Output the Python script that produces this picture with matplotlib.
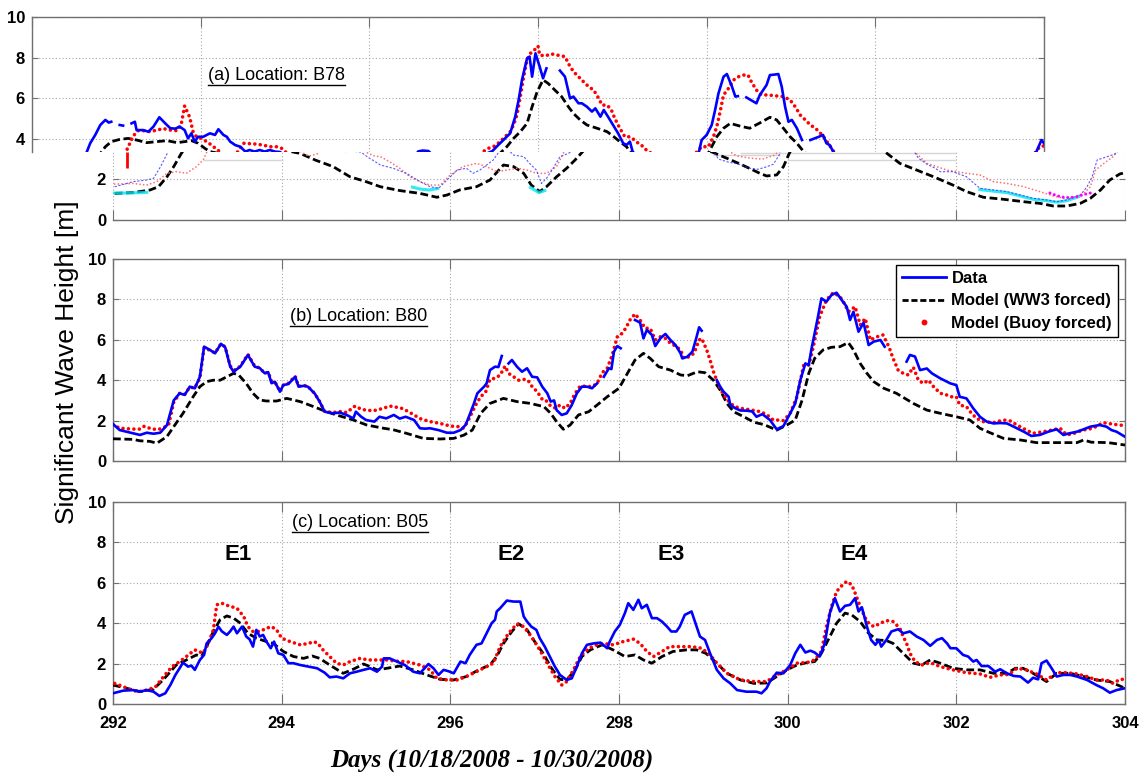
import numpy as np
import matplotlib
matplotlib.use("Agg")
import matplotlib.pyplot as plt
from matplotlib.lines import Line2D

nan = np.nan

# ------------------------------------------------------------------
# Hs time series, (day of year, metres). nan marks gaps in the buoy record.
# ------------------------------------------------------------------

# (a) B78
b78_data = [
    (292.02, 1.64), (292.12, 1.75), (292.24, 1.89), (292.32, 1.93), (292.40, 1.97),
    (292.48, 2.05), (292.56, 2.60), (292.64, 3.25), (292.69, 3.78), (292.75, 4.19),
    (292.81, 4.68), (292.87, 4.93), (292.91, 4.80), (292.94, 4.84), (292.99, nan),
    (293.04, 4.68), (293.08, 4.65), (293.12, nan), (293.18, 4.76), (293.22, 4.84),
    (293.24, 4.43), (293.32, 4.43), (293.38, 4.35), (293.44, 4.60), (293.51, 5.06),
    (293.58, 4.76), (293.64, 4.52), (293.70, 4.50), (293.75, 4.60), (293.81, 4.43),
    (293.85, 4.02), (293.89, 4.27), (293.93, 3.86), (293.97, 4.10), (294.03, 4.10),
    (294.11, 4.27), (294.17, 4.19), (294.21, 4.47), (294.27, 4.19), (294.31, 4.10),
    (294.35, 3.86), (294.41, 3.69), (294.47, 3.61), (294.53, 3.37), (294.58, 3.45),
    (294.64, 3.37), (294.70, 3.45), (294.76, 3.37), (294.82, 3.45), (294.88, 3.37),
    (294.94, 3.35), (295.02, 3.10), (295.10, 2.90), (295.17, 2.71), (295.32, 2.55),
    (295.48, 2.30), (295.64, 1.89), (295.76, 1.64), (295.86, 1.56), (295.96, 1.97),
    (296.08, 2.46), (296.19, 2.55), (296.27, 2.30), (296.35, 2.46), (296.43, 2.71),
    (296.51, 2.96), (296.58, 3.38), (296.63, 3.42), (296.70, 3.40), (296.75, 3.20),
    (296.87, 3.12), (296.94, 2.79), (297.02, 2.46), (297.08, 1.80), (297.14, 2.05),
    (297.22, 2.55), (297.30, 3.12), (297.38, 3.25), (297.46, 3.40), (297.53, 3.70),
    (297.59, 3.94), (297.67, 4.27), (297.73, 5.09), (297.77, 5.91), (297.81, 6.90),
    (297.87, 7.96), (297.90, 8.05), (297.93, 7.06), (297.97, 8.21), (298.02, 7.55),
    (298.06, 6.98), (298.10, 7.47), (298.18, nan), (298.26, 7.36), (298.32, 7.06),
    (298.38, 5.99), (298.42, 6.08), (298.48, 5.75), (298.52, 5.75), (298.58, 5.58),
    (298.64, 5.34), (298.68, 5.50), (298.74, 5.09), (298.78, 5.42), (298.83, 5.09),
    (298.89, 4.68), (298.95, 4.27), (299.01, 3.78), (299.05, 3.70), (299.09, 3.86),
    (299.12, 3.40), (299.18, 3.00), (299.30, 2.85), (299.42, 2.75), (299.55, 2.55),
    (299.65, 2.50), (299.75, 2.62), (299.83, 2.75), (299.90, 3.20), (299.94, 3.94),
    (300.00, 4.19), (300.06, 4.68), (300.10, 5.42), (300.14, 6.24), (300.20, 7.06),
    (300.24, 7.19), (300.30, 6.57), (300.34, 6.08), (300.37, 6.10), (300.42, nan),
    (300.47, 6.04), (300.59, 5.75), (300.63, 6.16), (300.67, 6.40), (300.71, 6.65),
    (300.75, 7.14), (300.80, 7.16), (300.85, 7.19), (300.89, 6.57), (300.93, 5.58),
    (300.97, 4.84), (301.01, 4.93), (301.07, 4.52), (301.13, 3.94), (301.18, nan),
    (301.23, 3.94), (301.33, 4.10), (301.38, 4.19), (301.42, 3.78), (301.46, 3.69),
    (301.50, 3.37), (301.55, 3.05), (301.65, 2.75), (301.75, 2.55), (301.81, 2.38),
    (301.96, 2.38), (302.12, 2.13), (302.28, 1.56), (302.44, 1.48), (302.60, 1.40),
    (302.76, 1.23), (302.91, 1.07), (303.07, 0.99), (303.19, 0.90), (303.31, 0.99),
    (303.47, 1.23), (303.55, 1.64), (303.61, 2.13), (303.67, 2.96), (303.79, 3.12),
    (303.88, 3.25), (303.91, 3.37), (303.97, 3.94), (304.00, 3.78),
]
b78_ww3 = [
    (292.02, 1.31), (292.24, 1.35), (292.44, 1.48), (292.54, 1.64), (292.64, 2.13),
    (292.72, 2.63), (292.81, 3.28), (292.87, 3.61), (292.94, 3.86), (293.04, 3.97),
    (293.14, 4.02), (293.24, 3.94), (293.36, 3.81), (293.48, 3.86), (293.60, 3.91),
    (293.72, 3.81), (293.81, 3.86), (293.89, 3.91), (293.97, 3.78), (294.05, 3.53),
    (294.11, 3.37), (294.22, 3.28), (294.40, 2.95), (294.61, 2.63), (294.81, 2.13),
    (295.00, 1.89), (295.17, 1.64), (295.40, 1.45), (295.64, 1.31), (295.84, 1.12),
    (295.96, 1.23), (296.11, 1.48), (296.31, 1.64), (296.47, 1.97), (296.63, 2.71),
    (296.75, 2.63), (296.87, 2.30), (296.96, 1.72), (297.06, 1.40), (297.14, 1.64),
    (297.26, 2.13), (297.38, 2.55), (297.48, 2.96), (297.57, 3.37), (297.63, 3.61),
    (297.71, 4.02), (297.79, 4.35), (297.87, 4.76), (297.93, 5.58), (297.99, 6.32),
    (298.06, 6.90), (298.12, 6.73), (298.20, 6.40), (298.28, 6.08), (298.36, 5.58),
    (298.42, 5.25), (298.50, 4.93), (298.58, 4.68), (298.70, 4.52), (298.82, 4.35),
    (298.90, 4.10), (298.97, 3.86), (299.05, 3.61), (299.09, 3.37), (299.28, 3.04),
    (299.44, 2.75), (299.59, 2.46), (299.67, 2.30), (299.75, 2.17), (299.87, 2.22),
    (299.95, 2.63), (300.01, 3.20), (300.04, 3.45), (300.12, 4.10), (300.20, 4.52),
    (300.28, 4.76), (300.40, 4.62), (300.51, 4.52), (300.63, 4.78), (300.75, 5.06),
    (300.83, 4.93), (300.91, 4.52), (300.99, 4.10), (301.07, 3.78), (301.15, 3.37),
    (301.33, 2.79), (301.53, 2.46), (301.73, 2.13), (301.96, 1.72), (302.12, 1.40),
    (302.32, 1.12), (302.56, 1.02), (302.80, 0.90), (302.99, 0.82), (303.15, 0.69),
    (303.31, 0.69), (303.47, 0.82), (303.59, 1.07), (303.71, 1.48), (303.82, 1.97),
    (303.94, 2.27), (304.00, 2.33),
]
b78_buoy = [
    (292.02, 1.77), (292.12, 1.78), (292.24, 1.80), (292.32, 1.76), (292.40, 1.72),
    (292.52, 1.89), (292.64, 2.30), (292.75, 2.38), (292.87, 2.30), (292.99, 2.63),
    (293.07, 2.96), (293.16, 3.78), (293.20, 4.14), (293.26, 4.40), (293.32, 4.40),
    (293.40, 4.35), (293.48, 4.43), (293.56, 4.50), (293.64, 4.43), (293.72, 4.40),
    (293.77, 4.73), (293.81, 5.62), (293.87, 5.06), (293.91, 4.35), (293.95, 4.10),
    (294.01, 4.02), (294.07, 3.86), (294.13, 3.69), (294.19, 3.48), (294.25, 3.30),
    (294.32, 3.15), (294.42, 3.25), (294.51, 3.78), (294.58, 3.76), (294.66, 3.74),
    (294.74, 3.69), (294.82, 3.61), (294.90, 3.61), (294.96, 3.53), (295.02, 3.30),
    (295.10, 3.15), (295.17, 3.12), (295.28, 2.87), (295.40, 2.55), (295.52, 2.13),
    (295.64, 1.89), (295.76, 1.72), (295.88, 1.72), (296.00, 2.22), (296.15, 2.63),
    (296.31, 2.79), (296.43, 2.63), (296.55, 2.38), (296.67, 2.46), (296.79, 2.55),
    (296.91, 2.46), (297.02, 2.30), (297.14, 2.30), (297.26, 2.63), (297.35, 3.37),
    (297.41, 3.53), (297.49, 3.65), (297.55, 3.86), (297.61, 4.10), (297.67, 4.35),
    (297.71, 4.68), (297.75, 5.17), (297.79, 6.08), (297.83, 7.06), (297.87, 7.88),
    (297.91, 8.21), (297.95, 8.34), (298.00, 8.57), (298.02, 8.13), (298.08, 8.08),
    (298.16, 8.18), (298.22, 8.13), (298.28, 8.08), (298.32, 8.05), (298.37, 7.64),
    (298.42, 7.31), (298.48, 7.06), (298.54, 6.81), (298.60, 6.57), (298.66, 6.40),
    (298.72, 5.99), (298.76, 5.66), (298.82, 5.66), (298.87, 5.42), (298.91, 5.01),
    (298.97, 4.52), (299.03, 4.10), (299.09, 4.10), (299.14, 3.95), (299.19, 3.78),
    (299.25, 3.61), (299.29, 3.42), (299.40, 3.15), (299.55, 3.05), (299.70, 3.00),
    (299.85, 3.20), (299.94, 3.61), (300.02, 3.61), (300.08, 4.10), (300.12, 4.60),
    (300.16, 5.34), (300.20, 6.16), (300.26, 6.49), (300.32, 6.90), (300.38, 7.06),
    (300.44, 7.14), (300.49, 7.14), (300.53, 6.81), (300.59, 6.40), (300.65, 6.16),
    (300.73, 6.16), (300.81, 6.12), (300.91, 6.08), (300.99, 5.91), (301.05, 5.58),
    (301.11, 5.17), (301.17, 4.93), (301.23, 4.68), (301.29, 4.52), (301.35, 4.27),
    (301.40, 4.02), (301.44, 3.78), (301.48, 3.53), (301.52, 3.30), (301.65, 2.79),
    (301.89, 2.46), (302.12, 2.30), (302.28, 2.22), (302.44, 1.89), (302.60, 1.80),
    (302.80, 1.64), (302.99, 1.40), (303.15, 1.18), (303.27, 1.07), (303.39, 1.12),
    (303.51, 1.31), (303.59, 1.64), (303.65, 2.46), (303.75, 2.79), (303.86, 3.12),
    (303.95, 3.61), (304.00, 3.65),
]
# extra traces left over in the lower strip of panel (a)
b78_cyan = [
    (292.02, 1.33), (292.20, 1.33), (292.40, 1.36), (292.45, nan),
    (295.55, 1.62), (295.65, 1.52), (295.75, 1.48), (295.85, 1.55), (295.90, nan),
    (296.95, 1.60), (297.05, 1.35), (297.12, 1.45), (297.20, nan),
    (302.28, 1.50), (302.44, 1.42), (302.60, 1.35), (302.76, 1.18), (302.91, 1.02),
    (303.07, 0.95), (303.19, 0.88), (303.31, 0.95), (303.45, 1.15),
]
b78_magenta = [
    (303.11, 1.33), (303.19, 1.20), (303.27, 1.12), (303.35, 1.10), (303.43, 1.15),
    (303.51, 1.25), (303.59, 1.33),
]
b78_buoy_bar = (292.17, 2.56, 3.35)
# faint horizontal rules in the lower strip: (level, start day, end day)
b78_rules = [(2.96, 293.07, 294.02), (2.96, 299.99, 302.0),
             (3.30, 299.43, 302.0), (3.20, 299.11, 299.91)]

# (b) B80
b80_data = [
    (292.00, 1.83), (292.08, 1.53), (292.16, 1.45), (292.24, 1.37), (292.32, 1.29),
    (292.40, 1.40), (292.48, 1.35), (292.56, 1.40), (292.64, 1.78), (292.72, 3.00),
    (292.79, 3.35), (292.85, 3.27), (292.91, 3.68), (292.97, 3.60), (293.03, 4.17),
    (293.08, 5.66), (293.15, 5.50), (293.21, 5.33), (293.28, 5.80), (293.33, 5.63),
    (293.39, 4.67), (293.43, 4.42), (293.51, 4.67), (293.60, 5.25), (293.68, 4.67),
    (293.74, 4.60), (293.80, 4.34), (293.84, 4.40), (293.88, 3.85), (293.92, 3.92),
    (293.98, 3.43), (294.02, 3.76), (294.08, 3.81), (294.16, 4.17), (294.20, 3.68),
    (294.26, 3.72), (294.31, 3.68), (294.39, 3.35), (294.45, 2.94), (294.51, 2.44),
    (294.61, 2.36), (294.69, 2.40), (294.77, 2.28), (294.85, 2.11), (294.88, 2.44),
    (294.94, 2.20), (295.00, 2.03), (295.10, 1.95), (295.16, 2.19), (295.24, 2.11),
    (295.33, 2.28), (295.40, 2.10), (295.47, 2.19), (295.57, 2.03), (295.64, 1.62),
    (295.70, 1.60), (295.76, 1.62), (295.86, 1.53), (295.96, 1.40), (296.04, 1.40),
    (296.12, 1.53), (296.18, 1.78), (296.22, 2.19), (296.28, 2.85), (296.32, 3.35),
    (296.40, 3.68), (296.43, 3.84), (296.47, 4.50), (296.53, 4.67), (296.57, 4.65),
    (296.61, 5.20), (296.65, nan), (296.69, 4.83), (296.73, 5.00), (296.79, 4.67),
    (296.85, 4.42), (296.91, 4.59), (296.97, 4.17), (297.03, 4.14), (297.09, 3.68),
    (297.15, 3.35), (297.19, 2.94), (297.23, 3.00), (297.26, 2.52), (297.32, 2.28),
    (297.38, 2.36), (297.44, 2.77), (297.50, 3.35), (297.56, 3.68), (297.62, 3.68),
    (297.68, 3.60), (297.74, 3.84), (297.78, nan), (297.82, 4.17), (297.88, 4.59),
    (297.91, 4.55), (297.94, 5.41), (297.98, 5.69), (298.02, 5.58), (298.10, nan),
    (298.19, 6.98), (298.25, 6.85), (298.29, 6.07), (298.33, 6.49), (298.39, 6.24),
    (298.43, 5.69), (298.49, 6.07), (298.55, 6.29), (298.61, 5.99), (298.67, 5.74),
    (298.73, 5.33), (298.75, 5.08), (298.81, 5.16), (298.87, 5.41), (298.91, 5.99),
    (298.95, 6.62), (298.98, 6.45), (299.07, nan), (299.16, 4.00), (299.20, 3.68),
    (299.24, 3.43), (299.30, 3.18), (299.32, 2.77), (299.38, 2.61), (299.44, 2.50),
    (299.52, 2.49), (299.58, 2.45), (299.63, 2.19), (299.70, 2.32), (299.79, 2.03),
    (299.87, 1.57), (299.95, 1.73), (300.03, 2.36), (300.09, 2.85), (300.15, 4.00),
    (300.21, 4.83), (300.25, 4.75), (300.28, 5.50), (300.36, 7.15), (300.40, 8.05),
    (300.46, 7.89), (300.52, 8.22), (300.58, 8.33), (300.64, 7.97), (300.70, 7.64),
    (300.74, 6.98), (300.78, 7.39), (300.84, 6.40), (300.90, 6.85), (300.96, 5.74),
    (301.02, 5.91), (301.10, 5.99), (301.15, 5.66), (301.28, nan), (301.41, 4.92),
    (301.45, 5.25), (301.51, 5.17), (301.57, 4.50), (301.65, 4.58), (301.71, 4.34),
    (301.81, 4.09), (301.93, 3.84), (302.00, 3.76), (302.04, 3.18), (302.12, 3.10),
    (302.20, 2.61), (302.28, 2.19), (302.36, 1.95), (302.44, 1.86), (302.52, 1.88),
    (302.60, 1.86), (302.68, 1.70), (302.80, 1.45), (302.89, 1.24), (302.99, 1.29),
    (303.09, 1.45), (303.19, 1.57), (303.27, 1.29), (303.33, 1.36), (303.43, 1.45),
    (303.51, 1.57), (303.59, 1.70), (303.70, 1.78), (303.78, 1.70), (303.84, 1.53),
    (303.90, 1.45), (304.00, 1.20),
]
b80_ww3 = [
    (292.00, 1.10), (292.16, 1.08), (292.24, 1.07), (292.32, 1.00), (292.44, 0.97),
    (292.52, 0.88), (292.64, 1.21), (292.72, 1.70), (292.83, 2.36), (292.95, 3.18),
    (293.03, 3.68), (293.11, 3.93), (293.19, 4.00), (293.27, 4.00), (293.35, 4.17),
    (293.43, 4.34), (293.49, 4.26), (293.58, 3.84), (293.66, 3.35), (293.74, 3.02),
    (293.82, 2.97), (293.94, 2.97), (294.06, 3.10), (294.14, 3.02), (294.22, 2.94),
    (294.38, 2.69), (294.53, 2.44), (294.69, 2.23), (294.85, 2.03), (295.01, 1.78),
    (295.21, 1.62), (295.32, 1.55), (295.48, 1.37), (295.68, 1.12), (295.88, 1.09),
    (296.04, 1.12), (296.16, 1.28), (296.26, 1.53), (296.36, 2.36), (296.47, 2.85),
    (296.63, 3.10), (296.79, 2.94), (296.95, 2.85), (297.11, 2.69), (297.19, 2.36),
    (297.26, 1.95), (297.34, 1.57), (297.42, 1.78), (297.52, 2.28), (297.64, 2.44),
    (297.74, 2.77), (297.86, 3.18), (298.00, 3.60), (298.10, 4.34), (298.19, 5.00),
    (298.29, 5.33), (298.37, 5.08), (298.47, 4.67), (298.61, 4.50), (298.73, 4.26),
    (298.81, 4.22), (298.93, 4.42), (299.02, 4.37), (299.12, 4.00), (299.20, 3.51),
    (299.28, 2.85), (299.36, 2.44), (299.48, 2.19), (299.60, 1.92), (299.72, 1.80),
    (299.87, 1.53), (299.99, 1.78), (300.09, 2.03), (300.17, 3.00), (300.25, 4.34),
    (300.32, 5.08), (300.42, 5.50), (300.52, 5.63), (300.62, 5.66), (300.72, 5.86),
    (300.78, 5.50), (300.86, 4.83), (300.94, 4.34), (301.02, 3.93), (301.14, 3.60),
    (301.29, 3.35), (301.49, 2.85), (301.65, 2.52), (301.81, 2.36), (302.00, 2.19),
    (302.16, 2.03), (302.28, 1.62), (302.40, 1.40), (302.56, 1.12), (302.76, 1.04),
    (302.95, 0.91), (303.19, 0.91), (303.43, 0.91), (303.51, 1.04), (303.60, 0.93),
    (303.80, 0.91), (304.00, 0.79),
]
b80_buoy = [
    (292.00, 1.80), (292.08, 1.62), (292.16, 1.60), (292.24, 1.58), (292.32, 1.58),
    (292.37, 1.72), (292.45, 1.60), (292.53, 1.55), (292.60, 1.65), (292.66, 1.80),
    (292.72, 2.90), (292.79, 3.35), (292.85, 3.30), (292.91, 3.65), (292.97, 3.62),
    (293.03, 4.10), (293.08, 5.60), (293.15, 5.48), (293.21, 5.35), (293.28, 5.80),
    (293.33, 5.65), (293.39, 4.70), (293.45, 4.50), (293.51, 4.70), (293.60, 5.28),
    (293.68, 4.70), (293.74, 4.60), (293.80, 4.34), (293.84, 4.40), (293.88, 3.95),
    (293.94, 3.80), (293.98, 3.43), (294.02, 3.76), (294.08, 3.85), (294.16, 4.20),
    (294.20, 3.70), (294.26, 3.75), (294.31, 3.70), (294.39, 3.35), (294.45, 2.95),
    (294.51, 2.45), (294.61, 2.40), (294.69, 2.45), (294.77, 2.40), (294.87, 2.72),
    (294.95, 2.55), (295.05, 2.50), (295.10, 2.50), (295.20, 2.60), (295.28, 2.72),
    (295.33, 2.69), (295.43, 2.60), (295.50, 2.45), (295.57, 2.28), (295.64, 2.10),
    (295.76, 1.95), (295.88, 1.86), (296.00, 1.73), (296.10, 1.70), (296.15, 1.62),
    (296.20, 1.90), (296.30, 2.77), (296.36, 3.18), (296.42, 3.43), (296.47, 4.04),
    (296.53, 4.10), (296.59, 4.25), (296.65, 4.70), (296.69, 4.34), (296.75, 4.17),
    (296.81, 4.00), (296.87, 4.04), (296.92, 4.00), (296.97, 3.68), (297.03, 3.43),
    (297.09, 3.05), (297.13, 3.02), (297.19, 2.72), (297.25, 2.61), (297.30, 2.77),
    (297.36, 2.61), (297.42, 2.85), (297.48, 3.35), (297.54, 3.71), (297.60, 3.70),
    (297.68, 3.68), (297.74, 3.84), (297.80, 4.37), (297.86, 4.59), (297.92, 5.25),
    (297.98, 6.15), (298.02, 6.24), (298.08, 6.57), (298.13, 6.98), (298.19, 7.28),
    (298.25, 6.98), (298.31, 6.57), (298.37, 6.57), (298.43, 5.99), (298.49, 6.15),
    (298.55, 6.07), (298.61, 5.83), (298.67, 5.69), (298.73, 5.50), (298.77, 5.08),
    (298.83, 5.16), (298.89, 5.33), (298.95, 5.99), (298.98, 6.07), (299.04, 5.50),
    (299.08, 5.00), (299.12, 4.42), (299.18, 3.76), (299.24, 3.27), (299.32, 2.85),
    (299.38, 2.69), (299.44, 2.61), (299.52, 2.56), (299.60, 2.50), (299.68, 2.44),
    (299.75, 2.30), (299.83, 2.03), (299.87, 2.03), (299.95, 2.00), (300.03, 2.36),
    (300.11, 3.18), (300.19, 4.75), (300.25, 4.75), (300.30, 5.58), (300.38, 7.15),
    (300.46, 7.97), (300.54, 8.33), (300.62, 8.14), (300.66, 7.89), (300.72, 7.39),
    (300.80, 7.64), (300.86, 6.73), (300.92, 7.06), (300.98, 5.99), (301.06, 6.15),
    (301.13, 6.24), (301.20, 5.66), (301.25, 5.08), (301.31, 4.50), (301.37, 4.34),
    (301.43, 4.26), (301.49, 4.64), (301.55, 4.00), (301.61, 3.84), (301.67, 4.00),
    (301.73, 3.68), (301.81, 3.35), (301.87, 3.30), (301.93, 3.18), (302.00, 3.18),
    (302.04, 2.77), (302.12, 2.69), (302.18, 2.36), (302.24, 2.11), (302.32, 1.95),
    (302.44, 1.90), (302.56, 2.03), (302.64, 1.98), (302.72, 1.78), (302.83, 1.53),
    (302.91, 1.37), (303.03, 1.45), (303.13, 1.53), (303.23, 1.62), (303.31, 1.29),
    (303.39, 1.36), (303.50, 1.53), (303.62, 1.62), (303.74, 1.90), (303.86, 1.82),
    (304.00, 1.75),
]

# (c) B05
b05_data = [
    (292.00, 0.53), (292.12, 0.66), (292.24, 0.69), (292.32, 0.61), (292.40, 0.69),
    (292.48, 0.61), (292.55, 0.40), (292.62, 0.53), (292.68, 0.94), (292.74, 1.44),
    (292.79, 1.77), (292.83, 2.05), (292.89, 1.85), (292.93, 1.90), (292.97, 1.69),
    (293.03, 2.18), (293.08, 2.43), (293.11, 3.00), (293.17, 3.26), (293.21, 3.50),
    (293.25, 3.83), (293.29, 3.60), (293.35, 3.42), (293.39, 3.60), (293.43, 3.83),
    (293.47, 3.50), (293.53, 3.83), (293.58, 3.34), (293.62, 3.20), (293.66, 2.84),
    (293.70, 3.67), (293.74, 3.34), (293.78, 3.42), (293.82, 3.09), (293.87, 2.76),
    (293.91, 3.09), (293.96, 2.51), (294.02, 2.43), (294.08, 2.02), (294.14, 2.02),
    (294.22, 1.93), (294.32, 1.85), (294.42, 1.77), (294.51, 1.55), (294.57, 1.32),
    (294.65, 1.36), (294.73, 1.27), (294.81, 1.52), (294.89, 1.60), (294.97, 1.69),
    (295.05, 1.77), (295.13, 1.60), (295.19, 1.85), (295.21, 2.26), (295.28, 2.26),
    (295.34, 2.15), (295.46, 1.93), (295.56, 1.60), (295.64, 1.52), (295.74, 1.98),
    (295.80, 1.77), (295.86, 1.44), (295.92, 1.69), (295.98, 1.62), (296.04, 1.52),
    (296.12, 2.10), (296.18, 2.02), (296.23, 2.43), (296.31, 2.93), (296.37, 3.00),
    (296.43, 3.50), (296.49, 4.00), (296.53, 4.17), (296.55, 4.58), (296.59, 4.74),
    (296.67, 5.12), (296.75, 5.07), (296.83, 5.07), (296.87, 4.33), (296.91, 4.08),
    (296.96, 3.83), (297.02, 3.67), (297.06, 3.26), (297.12, 2.84), (297.18, 2.35),
    (297.24, 1.85), (297.30, 1.44), (297.38, 1.19), (297.44, 1.27), (297.50, 1.85),
    (297.56, 2.51), (297.62, 2.93), (297.70, 3.00), (297.78, 3.04), (297.86, 2.76),
    (297.89, 3.09), (297.95, 3.59), (298.01, 3.92), (298.07, 4.50), (298.11, 4.99),
    (298.17, 4.66), (298.23, 5.16), (298.27, 4.74), (298.33, 4.91), (298.39, 4.25),
    (298.45, 4.25), (298.51, 4.08), (298.57, 3.83), (298.62, 3.59), (298.68, 3.59),
    (298.72, 3.83), (298.78, 4.41), (298.86, 4.58), (298.90, 4.08), (298.96, 3.34),
    (299.02, 3.17), (299.08, 2.51), (299.16, 1.69), (299.24, 1.27), (299.32, 1.02),
    (299.40, 0.69), (299.51, 0.61), (299.63, 0.61), (299.69, 0.53), (299.75, 0.78),
    (299.79, 1.11), (299.87, 1.55), (299.95, 1.52), (300.03, 1.93), (300.09, 2.51),
    (300.15, 2.93), (300.21, 2.55), (300.27, 2.64), (300.32, 2.55), (300.38, 2.35),
    (300.44, 3.00), (300.50, 4.50), (300.56, 5.24), (300.62, 4.58), (300.68, 4.86),
    (300.74, 4.91), (300.80, 5.24), (300.84, 4.58), (300.88, 4.79), (300.94, 3.83),
    (300.99, 3.17), (301.04, 2.93), (301.08, 3.17), (301.11, 2.84), (301.17, 3.17),
    (301.23, 3.59), (301.31, 3.70), (301.37, 3.50), (301.45, 3.59), (301.53, 3.34),
    (301.61, 3.17), (301.69, 2.88), (301.77, 3.17), (301.83, 3.26), (301.89, 3.00),
    (301.93, 2.76), (302.00, 2.76), (302.08, 2.43), (302.14, 2.35), (302.20, 2.10),
    (302.24, 2.18), (302.30, 1.88), (302.38, 1.88), (302.46, 1.60), (302.52, 1.72),
    (302.60, 1.52), (302.68, 1.39), (302.76, 1.36), (302.85, 1.06), (302.91, 1.30),
    (302.97, 1.22), (303.01, 2.02), (303.07, 2.15), (303.13, 1.77), (303.19, 1.36),
    (303.27, 1.44), (303.35, 1.44), (303.43, 1.36), (303.55, 1.19), (303.66, 0.94),
    (303.74, 0.78), (303.82, 0.56), (303.90, 0.69), (304.00, 0.78),
]
b05_ww3 = [
    (292.00, 0.94), (292.16, 0.78), (292.32, 0.61), (292.48, 0.73), (292.60, 1.22),
    (292.75, 1.93), (292.87, 2.18), (292.99, 2.43), (293.05, 2.35), (293.11, 2.84),
    (293.19, 3.59), (293.27, 4.17), (293.35, 4.36), (293.43, 4.25), (293.51, 4.00),
    (293.60, 3.50), (293.70, 3.26), (293.82, 3.09), (293.90, 3.00), (294.02, 2.60),
    (294.14, 2.35), (294.26, 2.26), (294.36, 2.38), (294.45, 2.26), (294.57, 1.93),
    (294.73, 1.52), (294.85, 1.72), (294.97, 1.98), (295.05, 1.85), (295.13, 1.69),
    (295.25, 1.77), (295.40, 1.88), (295.56, 1.69), (295.72, 1.44), (295.88, 1.22),
    (296.04, 1.19), (296.19, 1.36), (296.35, 1.72), (296.47, 1.93), (296.55, 2.35),
    (296.63, 3.00), (296.73, 3.59), (296.81, 3.97), (296.91, 3.67), (297.00, 3.09),
    (297.10, 2.51), (297.20, 1.77), (297.30, 1.22), (297.38, 1.19), (297.48, 1.69),
    (297.56, 2.35), (297.66, 2.68), (297.80, 2.93), (297.93, 2.68), (298.07, 2.35),
    (298.19, 2.43), (298.29, 2.18), (298.39, 2.02), (298.51, 2.35), (298.64, 2.60),
    (298.80, 2.68), (298.92, 2.68), (299.03, 2.51), (299.16, 2.02), (299.28, 1.52),
    (299.44, 1.19), (299.60, 1.02), (299.75, 1.04), (299.87, 1.36), (299.99, 1.69),
    (300.11, 1.93), (300.23, 2.05), (300.32, 2.10), (300.40, 2.51), (300.48, 3.17),
    (300.58, 4.00), (300.68, 4.50), (300.76, 4.41), (300.86, 4.08), (300.96, 3.50),
    (301.06, 3.17), (301.17, 3.14), (301.25, 3.00), (301.37, 2.51), (301.49, 2.02),
    (301.59, 1.93), (301.69, 2.18), (301.81, 2.02), (301.96, 1.77), (302.12, 1.69),
    (302.28, 1.69), (302.44, 1.52), (302.60, 1.52), (302.70, 1.77), (302.79, 1.77),
    (302.91, 1.52), (303.07, 1.11), (303.19, 1.52), (303.35, 1.52), (303.51, 1.36),
    (303.66, 1.19), (303.82, 1.11), (304.00, 0.78),
]
b05_buoy = [
    (292.02, 1.02), (292.12, 0.86), (292.22, 0.69), (292.30, 0.61), (292.40, 0.69),
    (292.50, 0.83), (292.60, 1.36), (292.70, 1.85), (292.79, 2.10), (292.87, 2.35),
    (292.97, 2.68), (293.07, 2.51), (293.13, 3.00), (293.19, 3.67), (293.23, 4.91),
    (293.29, 4.99), (293.37, 4.86), (293.47, 4.74), (293.55, 4.33), (293.60, 3.83),
    (293.66, 3.59), (293.74, 3.59), (293.82, 3.75), (293.88, 3.83), (293.94, 3.67),
    (294.00, 3.26), (294.10, 3.09), (294.22, 2.93), (294.32, 3.00), (294.38, 3.09),
    (294.43, 3.00), (294.49, 2.68), (294.57, 2.35), (294.65, 2.02), (294.73, 1.93),
    (294.81, 2.10), (294.93, 2.26), (295.03, 2.18), (295.13, 2.18), (295.25, 2.18),
    (295.36, 2.12), (295.48, 2.10), (295.64, 1.93), (295.76, 1.69), (295.84, 1.27),
    (295.96, 1.19), (296.08, 1.19), (296.19, 1.36), (296.31, 1.60), (296.43, 1.85),
    (296.51, 2.02), (296.59, 2.84), (296.69, 3.50), (296.79, 3.97), (296.87, 3.83),
    (296.96, 3.34), (297.06, 2.68), (297.16, 1.93), (297.24, 1.36), (297.32, 0.94),
    (297.38, 1.11), (297.46, 1.69), (297.54, 2.35), (297.64, 2.76), (297.74, 2.93),
    (297.81, 3.00), (297.93, 2.93), (298.05, 3.09), (298.17, 3.21), (298.25, 3.00),
    (298.33, 2.60), (298.41, 2.35), (298.51, 2.60), (298.60, 2.84), (298.72, 2.84),
    (298.86, 2.84), (298.98, 2.76), (299.08, 2.43), (299.16, 2.02), (299.28, 1.52),
    (299.44, 1.19), (299.60, 1.11), (299.75, 1.11), (299.87, 1.44), (299.99, 1.69),
    (300.11, 2.02), (300.23, 2.05), (300.32, 2.18), (300.40, 2.60), (300.46, 3.83),
    (300.52, 4.83), (300.58, 5.57), (300.64, 5.85), (300.70, 6.07), (300.76, 5.90),
    (300.80, 5.49), (300.86, 4.83), (300.94, 4.08), (301.02, 3.83), (301.10, 4.00),
    (301.17, 4.13), (301.25, 4.08), (301.33, 3.75), (301.37, 3.34), (301.41, 3.00),
    (301.45, 2.51), (301.51, 2.10), (301.59, 1.93), (301.69, 2.05), (301.81, 1.85),
    (301.96, 1.69), (302.12, 1.55), (302.28, 1.49), (302.40, 1.32), (302.52, 1.44),
    (302.62, 1.46), (302.72, 1.77), (302.83, 1.69), (302.95, 1.49), (303.07, 1.19),
    (303.19, 1.55), (303.31, 1.55), (303.43, 1.49), (303.55, 1.36), (303.66, 1.19),
    (303.78, 1.19), (303.86, 1.02), (303.94, 1.22), (304.00, 1.22),
]

day_ticks = [292, 294, 296, 298, 300, 302, 304]
hs_ticks = [0, 2, 4, 6, 8, 10]
event_names = ["E1", "E2", "E3", "E4"]
event_days = [293.48, 296.72, 298.62, 300.79]
event_hs = 7.4
series_labels = ["Data", "Model (WW3 forced)", "Model (Buoy forced)"]
station_names = ["(a) Location: B78", "(b) Location: B80", "(c) Location: B05"]

# ------------------------------------------------------------------
BLUE = "#0000ff"
RED = "#ff0000"
SPINE = "#707070"
GRIDC = "#a8a8a8"
TICKFONT = dict(family=["Liberation Sans Narrow", "Liberation Sans"], weight="bold", size=12)

W, H = 1147, 780
fig = plt.figure(figsize=(W / 100, H / 100), dpi=100)


def px_axes(x0, y0, x1, y1):
    # axes from pixel box (left, top, right, bottom)
    return fig.add_axes([x0 / W, 1 - y1 / H, (x1 - x0) / W, (y1 - y0) / H])


def xy(series):
    a = np.array(series, dtype=float)
    return a[:, 0], a[:, 1]


def dressed(ax, ylo, yhi, yticks, show_x=False):
    ax.set_xlim(292, 304)
    ax.set_ylim(ylo, yhi)
    ax.set_xticks(day_ticks)
    ax.set_yticks(yticks)
    ax.grid(True, linestyle=(0, (1, 2)), color=GRIDC, linewidth=0.8)
    ax.set_axisbelow(True)
    for s in ax.spines.values():
        s.set_color(SPINE)
        s.set_linewidth(1.0)
    ax.tick_params(axis="both", direction="in", colors=SPINE, top=True, right=True)
    ax.tick_params(axis="x", length=7, pad=6)
    ax.tick_params(axis="y", length=4, pad=5)
    for lab in ax.get_yticklabels():
        lab.set(color="black", **TICKFONT)
    if show_x:
        for lab in ax.get_xticklabels():
            lab.set(color="black", **TICKFONT)
    else:
        ax.set_xticklabels([])


def draw_model(ax, ww3, buoy, data, thin=False):
    d, h = xy(ww3)
    ax.plot(d, h, color="black", lw=2.0, linestyle=(0, (2.8, 1.3)), zorder=3)
    d, h = xy(buoy)
    if thin:
        ax.plot(d, h, color="#ff7070", lw=1.3, linestyle=(0, (0.01, 2.0)),
                dash_capstyle="round", zorder=4)
    else:
        ax.plot(d, h, color=RED, lw=2.6, linestyle=(0, (0.01, 1.5)),
                dash_capstyle="round", zorder=4)
    d, h = xy(data)
    if thin:
        ax.plot(d, h, color="#3030ff", lw=0.8, linestyle=(0, (2, 1.5)), alpha=0.8, zorder=5)
    else:
        ax.plot(d, h, color=BLUE, lw=1.9, zorder=5)


# ---- panel (a): upper part and displaced lower strip ----
split = 3.35
ax_at = px_axes(32, 17, 1044, 152)
dressed(ax_at, split, 10, [4, 6, 8, 10])
ax_at.spines["bottom"].set_visible(False)
ax_at.tick_params(axis="x", bottom=False)
draw_model(ax_at, b78_ww3, b78_buoy, b78_data)

ax_ab = px_axes(113, 152, 1125, 220)
dressed(ax_ab, 0, split, [0, 2])
for side in ("top", "left", "right"):
    ax_ab.spines[side].set_visible(False)
ax_ab.tick_params(axis="x", top=False)
for lev, d0, d1 in b78_rules:
    ax_ab.hlines(lev, d0, d1, color="#d6d6d6", lw=1.0, zorder=2)
draw_model(ax_ab, b78_ww3, b78_buoy, b78_data, thin=True)
d, h = xy(b78_cyan)
ax_ab.plot(d, h, color="#00e5ee", lw=2.2, alpha=0.8, zorder=4)
d, h = xy(b78_magenta)
ax_ab.plot(d, h, color="#ff00ff", lw=2.2, linestyle=(0, (0.01, 1.5)),
           dash_capstyle="round", zorder=5)
ax_ab.vlines(b78_buoy_bar[0], b78_buoy_bar[1], b78_buoy_bar[2], color=RED, lw=2)

# ---- panel (b) ----
ax_b = px_axes(113, 259, 1125, 461)
dressed(ax_b, 0, 10, hs_ticks)
draw_model(ax_b, b80_ww3, b80_buoy, b80_data)

# ---- panel (c) ----
ax_c = px_axes(113, 502, 1125, 704)
dressed(ax_c, 0, 10, hs_ticks, show_x=True)
ax_c.tick_params(axis="x", pad=9)
draw_model(ax_c, b05_ww3, b05_buoy, b05_data)

for name, day in zip(event_names, event_days):
    ax_c.text(day, event_hs, name, ha="center", va="center",
              fontsize=16, fontweight="bold", family="Liberation Sans")

# station labels (underlined)
labels = []
for ax, txt, (x, y) in zip([ax_at, ax_b, ax_c], station_names,
                           [(294.09, 7.14), (294.10, 7.13), (294.12, 8.97)]):
    labels.append(ax.text(x, y, txt, ha="left", va="center", fontsize=13,
                          family="Liberation Sans"))

# legend
handles = [
    Line2D([], [], color=BLUE, lw=2.0),
    Line2D([], [], color="black", lw=2.0, linestyle=(0, (2.2, 1.0))),
    Line2D([], [], color=RED, marker="o", markersize=3.2, linestyle="none"),
]
leg = ax_b.legend(handles, series_labels, loc="upper right",
                  bbox_to_anchor=(0.993, 0.970), frameon=True, fancybox=False,
                  framealpha=1, edgecolor="black", borderaxespad=0,
                  prop=dict(family="Liberation Sans", weight="bold", size=12),
                  handlelength=2.6, handletextpad=0.35, labelspacing=0.45,
                  borderpad=0.35, numpoints=1)
leg.get_frame().set_linewidth(1.0)
leg.set_zorder(10)

fig.text(67 / W, 1 - 362 / H, "Significant Wave Height [m]", rotation=90,
         ha="center", va="center", fontsize=19, family="Liberation Sans")
fig.text(492 / W, 1 - 761 / H, "Days (10/18/2008 - 10/30/2008)", ha="center",
         va="center", fontsize=18, family="Liberation Serif",
         fontweight="bold", fontstyle="italic")

# underline the station labels
fig.canvas.draw()
r = fig.canvas.get_renderer()
for t in labels:
    bb = t.get_window_extent(r)
    yline = (bb.y0 - 1) / H
    fig.add_artist(Line2D([bb.x0 / W, bb.x1 / W], [yline, yline],
                          color="black", lw=1.0))

fig.savefig("out.png", dpi=100)
